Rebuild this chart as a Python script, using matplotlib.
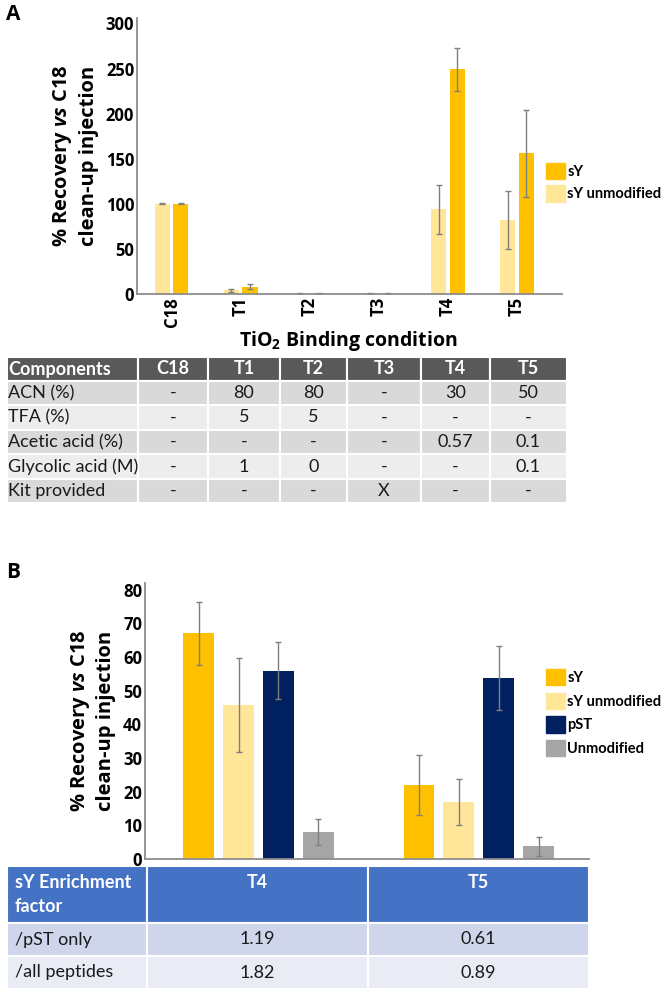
import matplotlib
matplotlib.use("Agg")
import matplotlib.pyplot as plt
from matplotlib.patches import Rectangle, Patch
import numpy as np

plt.rcParams['font.family'] = ['Open Sans', 'DejaVu Sans']
plt.rcParams['mathtext.fontset'] = 'custom'
plt.rcParams['mathtext.rm'] = 'Open Sans:bold'
plt.rcParams['mathtext.it'] = 'Open Sans:italic:bold'
plt.rcParams['mathtext.bf'] = 'Open Sans:bold'

W, H = 661, 990

# ---- panel A data ----
conditions = ['C18', 'T1', 'T2', 'T3', 'T4', 'T5']
sy_a = [100, 8, 1, 0.5, 249, 156]
sy_a_err = [0.5, 3, 0.5, 0.3, 24, 48]
syu_a = [100, 4, 0.5, 1, 94, 82]
syu_a_err = [0.5, 1.5, 0.3, 0.5, 27, 32]

comp_header = ['Components', 'C18', 'T1', 'T2', 'T3', 'T4', 'T5']
comp_rows = [
    ['ACN (%)', '-', '80', '80', '-', '30', '50'],
    ['TFA (%)', '-', '5', '5', '-', '-', '-'],
    ['Acetic acid (%)', '-', '-', '-', '-', '0.57', '0.1'],
    ['Glycolic acid (M)', '-', '1', '0', '-', '-', '0.1'],
    ['Kit provided', '-', '-', '-', 'X', '-', '-'],
]

# ---- panel B data ----
groups_b = ['T4', 'T5']
series_b = ['sY', 'sY unmodified', 'pST', 'Unmodified']
vals_b = [[67, 22], [45.7, 17], [56, 53.8], [8, 3.8]]
errs_b = [[9.3, 8.9], [14, 6.8], [8.6, 9.6], [3.9, 2.8]]

enr_header = ['sY Enrichment\nfactor', 'T4', 'T5']
enr_rows = [
    ['/pST only', '1.19', '0.61'],
    ['/all peptides', '1.82', '0.89'],
]

c_sy = '#FFC000'
c_syu = '#FFE699'
c_pst = '#002060'
c_unm = '#A5A5A5'
colors_b = [c_sy, c_syu, c_pst, c_unm]
err_col = '#7F7F7F'
spine_col = '#8C8C8C'
ekw = dict(ecolor=err_col, capsize=2.5, elinewidth=1, capthick=1)


def box(l, t, r, b):
    return [l / W, 1 - b / H, (r - l) / W, (b - t) / H]


fig = plt.figure(figsize=(6.61, 9.90), dpi=100)

bg = fig.add_axes([0, 0, 1, 1])
bg.set_xlim(0, W)
bg.set_ylim(H, 0)
bg.axis('off')

tfont = ['Lato', 'DejaVu Sans']
leg_prop = {'family': tfont, 'weight': 'bold', 'size': 10.5}


def style_axes(ax):
    for s in ['top', 'right']:
        ax.spines[s].set_visible(False)
    for s in ['left', 'bottom']:
        ax.spines[s].set_color(spine_col)
        ax.spines[s].set_linewidth(1.3)
    ax.tick_params(length=0, labelsize=12, pad=2)
    for lab in ax.get_yticklabels() + ax.get_xticklabels():
        lab.set_fontweight('bold')


ylab = '% Recovery $\\it{vs}$ C18\nclean-up injection'

# ---- panel A chart ----
axA = fig.add_axes(box(137, 18, 562, 294))
x = np.arange(len(conditions))
axA.bar(x - 0.135, syu_a, 0.22, color=c_syu, yerr=syu_a_err, error_kw=ekw)
axA.bar(x + 0.135, sy_a, 0.22, color=c_sy, yerr=sy_a_err, error_kw=ekw)
axA.set_xlim(-0.5, 5.65)
axA.set_ylim(0, 306)
axA.set_yticks([0, 50, 100, 150, 200, 250, 300])
axA.set_xticks(x)
axA.set_xticklabels(conditions, rotation=90)
style_axes(axA)
axA.set_ylabel(ylab, fontsize=14.5, fontweight='bold', labelpad=5, linespacing=1.3)
axA.legend(handles=[Patch(color=c_sy, label='sY'), Patch(color=c_syu, label='sY unmodified')],
           loc='upper left', bbox_to_anchor=(546 / W, 1 - 163 / H), bbox_transform=fig.transFigure,
           frameon=False, prop=leg_prop,
           handlelength=1.3, handleheight=1.35, handletextpad=0.15, labelspacing=0.4,
           borderpad=0, borderaxespad=0)

fig.text(348 / W, 1 - 341 / H, 'TiO$_2$ Binding condition', ha='center', va='center',
         fontsize=14, fontweight='bold')
fig.text(6 / W, 1 - 15 / H, 'A', ha='left', va='center', fontsize=15, fontweight='bold')

# ---- panel A table ----
col_edges_a = [7, 138, 208, 280, 347, 421, 490, 567]
row_edges_a = [357, 381, 405, 430, 454, 479, 503]
for r in range(len(comp_rows) + 1):
    top, bot = row_edges_a[r], row_edges_a[r + 1]
    if r == 0:
        fc, cells, tc, fw = '#595959', comp_header, 'white', 'bold'
    else:
        fc = '#D9D9D9' if r % 2 == 1 else '#EDEDED'
        cells, tc, fw = comp_rows[r - 1], '#1a1a1a', 'normal'
    for c in range(len(cells)):
        l, rr = col_edges_a[c], col_edges_a[c + 1]
        bg.add_patch(Rectangle((l, top), rr - l, bot - top, facecolor=fc,
                               edgecolor='white', linewidth=1.5))
        if c == 0:
            bg.text(l + 1, (top + bot) / 2, cells[c], ha='left', va='center',
                    fontsize=13, color=tc, fontweight=fw, family=tfont)
        else:
            bg.text((l + rr) / 2, (top + bot) / 2, cells[c], ha='center', va='center',
                    fontsize=13, color=tc, fontweight=fw, family=tfont)

# ---- panel B chart ----
axB = fig.add_axes(box(145, 583, 589, 859))
xb = np.arange(len(groups_b))
for i in range(len(series_b)):
    axB.bar(xb + (i - 1.5) * 0.181, vals_b[i], 0.14, color=colors_b[i], yerr=errs_b[i],
            error_kw=ekw)
axB.set_xlim(-0.515, 1.5)
axB.set_ylim(0, 82)
axB.set_yticks(range(0, 81, 10))
axB.set_xticks([])
style_axes(axB)
axB.set_ylabel(ylab, fontsize=14.5, fontweight='bold', labelpad=5, linespacing=1.3)
axB.legend(handles=[Patch(color=colors_b[i], label=series_b[i]) for i in range(4)],
           loc='upper left', bbox_to_anchor=(546 / W, 1 - 669 / H), bbox_transform=fig.transFigure,
           frameon=False, prop=leg_prop,
           handlelength=1.3, handleheight=1.35, handletextpad=0.15, labelspacing=0.5,
           borderpad=0, borderaxespad=0)
fig.text(6 / W, 1 - 572 / H, 'B', ha='left', va='center', fontsize=15, fontweight='bold')

# ---- panel B table ----
col_edges_b = [7, 147, 368, 589]
row_edges_b = [866, 923, 956, 989]
for r in range(len(enr_rows) + 1):
    top, bot = row_edges_b[r], row_edges_b[r + 1]
    if r == 0:
        fc, cells, tc, fw = '#4472C4', enr_header, 'white', 'bold'
    else:
        fc = '#CFD5EA' if r == 1 else '#E9EBF5'
        cells, tc, fw = enr_rows[r - 1], '#1a1a1a', 'normal'
    for c in range(len(cells)):
        l, rr = col_edges_b[c], col_edges_b[c + 1]
        bg.add_patch(Rectangle((l, top), rr - l, bot - top, facecolor=fc,
                               edgecolor='white', linewidth=1.5))
        if r == 0:
            if c == 0:
                bg.text(l + 8, (top + bot) / 2, cells[c], ha='left', va='center', fontsize=13,
                        color=tc, fontweight=fw, family=tfont, linespacing=1.45)
            else:
                bg.text((l + rr) / 2, top + 17, cells[c], ha='center', va='center',
                        fontsize=13, color=tc, fontweight=fw, family=tfont)
        elif c == 0:
            bg.text(l + 8, (top + bot) / 2, cells[c], ha='left', va='center',
                    fontsize=13, color=tc, fontweight=fw, family=tfont)
        else:
            bg.text((l + rr) / 2, (top + bot) / 2, cells[c], ha='center', va='center',
                    fontsize=13, color=tc, fontweight=fw, family=tfont)

fig.savefig('out.png', dpi=100)
